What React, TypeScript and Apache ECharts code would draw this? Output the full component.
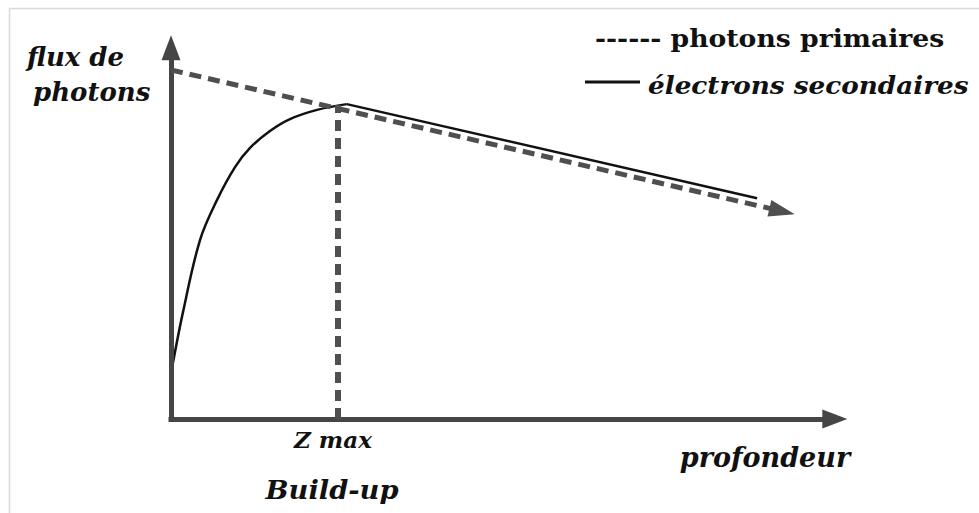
import React, { useEffect, useRef } from 'react';
import * as echarts from 'echarts';

// Conceptual depth (0-100) vs flux (0-100) values
const primaryDepth = [0, 90.4];
const primaryFlux = [90.9, 54.1];
const buildUpDepth = [0.15, 1.78, 4.29, 6.8, 9.47, 11.69, 14.64, 17.6, 21.6, 26.0];
const buildUpFlux = [13.3, 27.9, 46.6, 57.0, 65.6, 70.6, 75.0, 78.1, 80.5, 82.0];
const decayDepth = [26.0, 86.7];
const decayFlux = [82.0, 57.5];
const zMaxDepth = 24.6;
const zMaxFlux = 81.8;
const xAxisEnd = 98.2;
const yAxisEnd = 96.7;

const yAxisName = ['flux de', 'photons'];
const xAxisName = 'profondeur';
const zMaxLabel = 'Z max';
const buildUpLabel = 'Build-up';
const legendPrimary = '------ photons primaires';
const legendSecondary = 'électrons secondaires';

const AXIS_COLOR = '#454545';
const DASH_COLOR = '#4f4f4f';
const FONT = 'DejaVu Serif';

function zip(xs: number[], ys: number[]) {
  return xs.map((x, i) => [x, ys[i]]);
}

function txt(text: string, x: number, y: number, size: number, align: string, italic = true, bold = true, scaleX = 1) {
  return {
    type: 'text',
    x,
    y,
    scaleX,
    silent: true,
    style: {
      text,
      fill: '#111',
      fontSize: size,
      fontFamily: FONT,
      fontStyle: italic ? 'italic' : 'normal',
      fontWeight: bold ? 'bold' : 'normal',
      align,
      textAlign: align,
      verticalAlign: 'middle',
      textVerticalAlign: 'middle',
    },
  };
}

export default function App() {
  const ref = useRef<HTMLDivElement>(null);
  useEffect(() => {
    if (!ref.current) return;
    const chart = echarts.init(ref.current, null, { renderer: 'svg' });
    const option: any = {
      animation: false,
      backgroundColor: '#ffffff',
      grid: { left: 171, right: 132, top: 35, bottom: 94, containLabel: false },
      xAxis: {
        type: 'value', min: 0, max: 100,
        axisLine: { show: false }, axisTick: { show: false }, axisLabel: { show: false }, splitLine: { show: false },
      },
      yAxis: {
        type: 'value', min: 0, max: 100,
        axisLine: { show: false }, axisTick: { show: false }, axisLabel: { show: false }, splitLine: { show: false },
      },
      series: [
        {
          name: 'axes',
          type: 'line',
          data: [],
          clip: false,
          silent: true,
          markLine: {
            silent: true,
            animation: false,
            symbol: ['none', 'triangle'],
            symbolSize: [19, 25],
            label: { show: false },
            lineStyle: { color: AXIS_COLOR, width: 5, type: 'solid', cap: 'square', opacity: 1 },
            emphasis: { disabled: true },
            data: [
              [{ coord: [0, 0] }, { coord: [xAxisEnd, 0] }],
              [{ coord: [0, 0] }, { coord: [0, yAxisEnd] }],
            ],
          },
        },
        {
          name: 'photons primaires',
          type: 'line',
          data: [],
          clip: false,
          silent: true,
          markLine: {
            silent: true,
            animation: false,
            symbol: ['none', 'triangle'],
            symbolSize: [17, 26],
            label: { show: false },
            lineStyle: { color: DASH_COLOR, width: 5, type: [12, 7], opacity: 1 },
            emphasis: { disabled: true },
            data: [
              [
                { coord: [primaryDepth[0], primaryFlux[0]] },
                { coord: [primaryDepth[1], primaryFlux[1]] },
              ],
              [
                { coord: [zMaxDepth, 0], symbol: 'none' },
                { coord: [zMaxDepth, zMaxFlux], symbol: 'none', lineStyle: { width: 6, type: [11, 7] } },
              ],
            ],
          },
        },
        {
          name: 'électrons secondaires',
          type: 'line',
          data: zip(buildUpDepth, buildUpFlux),
          smooth: 0.35,
          showSymbol: false,
          symbol: 'none',
          clip: false,
          silent: true,
          lineStyle: { color: '#111', width: 2.5 },
        },
        {
          name: 'électrons secondaires (décroissance)',
          type: 'line',
          data: zip(decayDepth, decayFlux),
          showSymbol: false,
          symbol: 'none',
          clip: false,
          silent: true,
          lineStyle: { color: '#111', width: 2.5 },
        },
      ],
      graphic: [
        { type: 'line', silent: true, shape: { x1: 9, y1: 8.5, x2: 979, y2: 8.5 }, style: { stroke: '#d9d9d9', lineWidth: 1.5 } },
        { type: 'line', silent: true, shape: { x1: 9.5, y1: 8, x2: 9.5, y2: 513 }, style: { stroke: '#d9d9d9', lineWidth: 1.5 } },
        txt(yAxisName[0], 27, 57, 26, 'left'),
        txt(yAxisName[1], 33, 92, 26, 'left'),
        txt(legendPrimary, 595, 38, 24, 'left', false, true, 1.11),
        { type: 'line', silent: true, shape: { x1: 585, y1: 82, x2: 640, y2: 82 }, style: { stroke: '#111', lineWidth: 3 } },
        txt(legendSecondary, 648, 85, 25, 'left', true, true, 1.05),
        txt(zMaxLabel, 333, 440, 22, 'center', true, true, 1.05),
        txt(buildUpLabel, 332, 490, 26, 'center', true, true, 1.05),
        txt(xAxisName, 765, 457, 27, 'center'),
      ],
    };
    chart.setOption(option);
    return () => chart.dispose();
  }, []);
  return <div ref={ref} style={{ position: 'absolute', left: 0, top: 0, width: 979, height: 513 }} />;
}
